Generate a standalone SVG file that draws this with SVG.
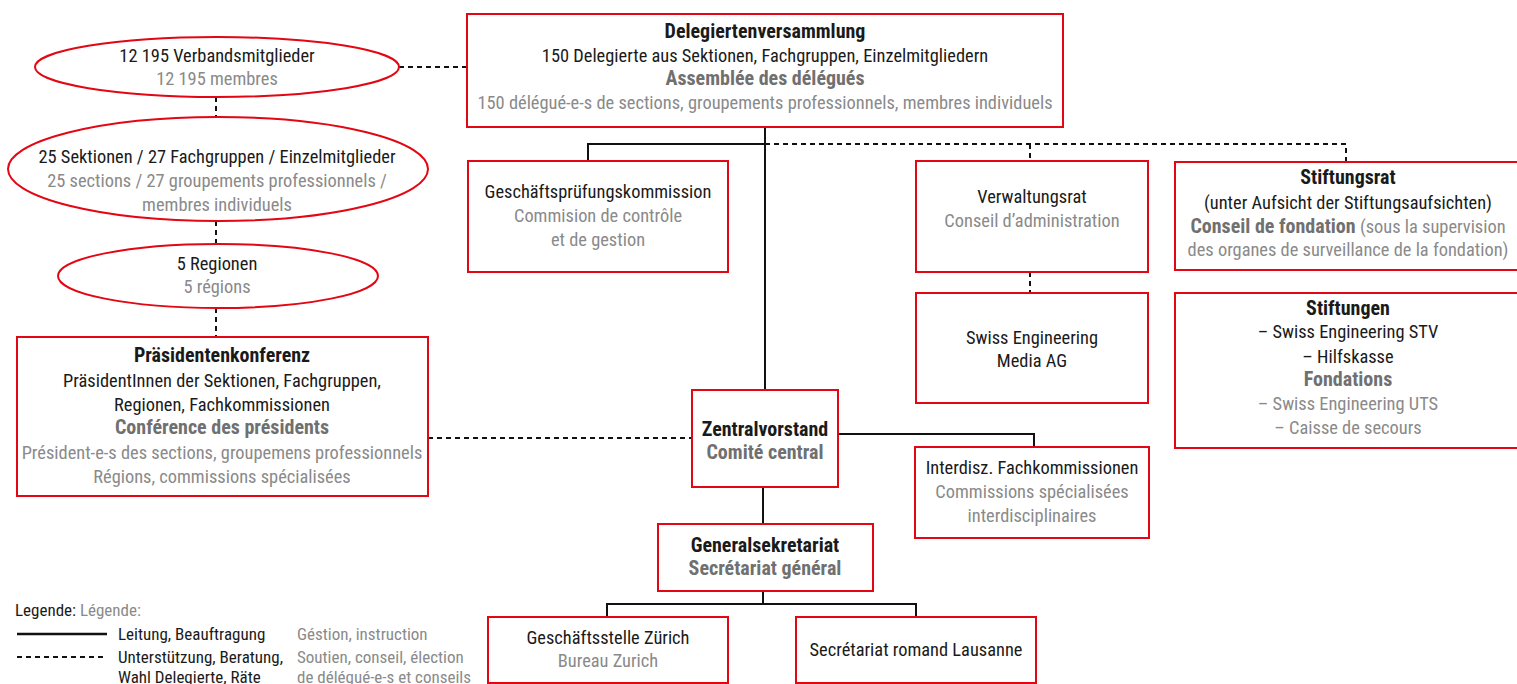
<svg xmlns="http://www.w3.org/2000/svg" width="1517" height="684" viewBox="0 0 1517 684">
<style>
text{font-family:"Liberation Sans Narrow","Roboto Condensed","DejaVu Sans Condensed","Liberation Sans",sans-serif;font-size:18.4px;fill:#1a1a1a;text-anchor:middle}
.g{fill:#8a8a8a}
.b{font-weight:bold;font-size:20px}
.bg{font-weight:bold;font-size:20px;fill:#707070}
.l{text-anchor:start;font-size:17px}
.box{fill:#fff;stroke:#e30613;stroke-width:2}
.s{fill:none;stroke:#111;stroke-width:2}
.d{fill:none;stroke:#111;stroke-width:2;stroke-dasharray:5 4}
</style>
<rect width="1517" height="684" fill="#fff"/>
<g id="connectors">
<path class="d" d="M399,67H467"/>
<path class="d" d="M216,97V117M216,221V243M216,308V337"/>
<path class="d" d="M428,438H692"/>
<path class="s" d="M765,127V390"/>
<path class="s" d="M588,161V144H765"/>
<path class="d" d="M765,144H1346V161M1030,144V161"/>
<path class="d" d="M1030,272V293"/>
<path class="s" d="M838,434H1034V447"/>
<path class="s" d="M763,487V524"/>
<path class="s" d="M763,591V604M607,617V604H916V617"/>
</g>
<g id="mitglieder">
<ellipse class="box" cx="217" cy="67" rx="182" ry="30"/>
<text x="217" y="62">12 195 Verbandsmitglieder</text>
<text class="g" x="217" y="85">12 195 membres</text>
</g>
<g id="sektionen">
<ellipse class="box" cx="218" cy="169" rx="210" ry="52"/>
<text x="217" y="163">25 Sektionen / 27 Fachgruppen / Einzelmitglieder</text>
<text class="g" x="217" y="187">25 sections / 27 groupements professionnels /</text>
<text class="g" x="217" y="211">membres individuels</text>
</g>
<g id="regionen">
<ellipse class="box" cx="218" cy="276" rx="160" ry="32"/>
<text x="217" y="270">5 Regionen</text>
<text class="g" x="217" y="293">5 régions</text>
</g>
<g id="praesidentenkonferenz">
<rect class="box" x="17" y="337" width="411" height="159"/>
<text class="b" x="222" y="362">Präsidentenkonferenz</text>
<text x="222" y="387">PräsidentInnen der Sektionen, Fachgruppen,</text>
<text x="222" y="411">Regionen, Fachkommissionen</text>
<text class="bg" x="222" y="434">Conférence des présidents</text>
<text class="g" x="222" y="459">Président-e-s des sections, groupemens professionnels</text>
<text class="g" x="222" y="483">Régions, commissions spécialisées</text>
</g>
<g id="delegiertenversammlung">
<rect class="box" x="467" y="14" width="596" height="113"/>
<text class="b" x="765" y="38">Delegiertenversammlung</text>
<text x="765" y="62">150 Delegierte aus Sektionen, Fachgruppen, Einzelmitgliedern</text>
<text class="bg" x="765" y="85">Assemblée des délégués</text>
<text class="g" x="765" y="109">150 délégué-e-s de sections, groupements professionnels, membres individuels</text>
</g>
<g id="gpk">
<rect class="box" x="468" y="161" width="260" height="111"/>
<text x="598" y="198">Geschäftsprüfungskommission</text>
<text class="g" x="598" y="222">Commision de contrôle</text>
<text class="g" x="598" y="246">et de gestion</text>
</g>
<g id="verwaltungsrat">
<rect class="box" x="916" y="161" width="232" height="111"/>
<text x="1032" y="203">Verwaltungsrat</text>
<text class="g" x="1032" y="227">Conseil d’administration</text>
</g>
<g id="media">
<rect class="box" x="916" y="293" width="232" height="110"/>
<text x="1032" y="344">Swiss Engineering</text>
<text x="1032" y="367">Media AG</text>
</g>
<g id="stiftungsrat">
<rect class="box" x="1175" y="162" width="350" height="108"/>
<text class="b" x="1348" y="184">Stiftungsrat</text>
<text x="1348" y="209">(unter Aufsicht der Stiftungsaufsichten)</text>
<text x="1348" y="233"><tspan class="bg">Conseil de fondation</tspan><tspan class="g"> (sous la supervision</tspan></text>
<text class="g" x="1348" y="256">des organes de surveillance de la fondation)</text>
</g>
<g id="stiftungen">
<rect class="box" x="1175" y="293" width="350" height="155"/>
<text class="b" x="1348" y="315">Stiftungen</text>
<text x="1348" y="338">– Swiss Engineering STV</text>
<text x="1348" y="363">– Hilfskasse</text>
<text class="bg" x="1348" y="386">Fondations</text>
<text class="g" x="1348" y="410">– Swiss Engineering UTS</text>
<text class="g" x="1348" y="434">– Caisse de secours</text>
</g>
<g id="zentralvorstand">
<rect class="box" x="692" y="390" width="146" height="97"/>
<text class="b" x="765" y="436">Zentralvorstand</text>
<text class="bg" x="765" y="459">Comité central</text>
</g>
<g id="fachkommissionen">
<rect class="box" x="915" y="447" width="234" height="91"/>
<text x="1032" y="474">Interdisz. Fachkommissionen</text>
<text class="g" x="1032" y="498">Commissions spécialisées</text>
<text class="g" x="1032" y="522">interdisciplinaires</text>
</g>
<g id="generalsekretariat">
<rect class="box" x="658" y="524" width="215" height="67"/>
<text class="b" x="765" y="552">Generalsekretariat</text>
<text class="bg" x="765" y="575">Secrétariat général</text>
</g>
<g id="zuerich">
<rect class="box" x="488" y="617" width="240" height="66"/>
<text x="608" y="644">Geschäftsstelle Zürich</text>
<text class="g" x="608" y="667">Bureau Zurich</text>
</g>
<g id="lausanne">
<rect class="box" x="796" y="617" width="240" height="66"/>
<text x="916" y="656">Secrétariat romand Lausanne</text>
</g>
<g id="legende">
<text class="l" x="15" y="616">Legende: <tspan class="g">Légende:</tspan></text>
<path d="M17,634H107" stroke="#111" stroke-width="2.5"/>
<path d="M17,657H107" stroke="#111" stroke-width="2" stroke-dasharray="5 4"/>
<text class="l" x="118" y="640">Leitung, Beauftragung</text>
<text class="l" x="118" y="663">Unterstützung, Beratung,</text>
<text class="l" x="118" y="683">Wahl Delegierte, Räte</text>
<text class="l g" x="297" y="640">Géstion, instruction</text>
<text class="l g" x="297" y="663">Soutien, conseil, élection</text>
<text class="l g" x="297" y="683">de délégué-e-s et conseils</text>
</g>
</svg>
